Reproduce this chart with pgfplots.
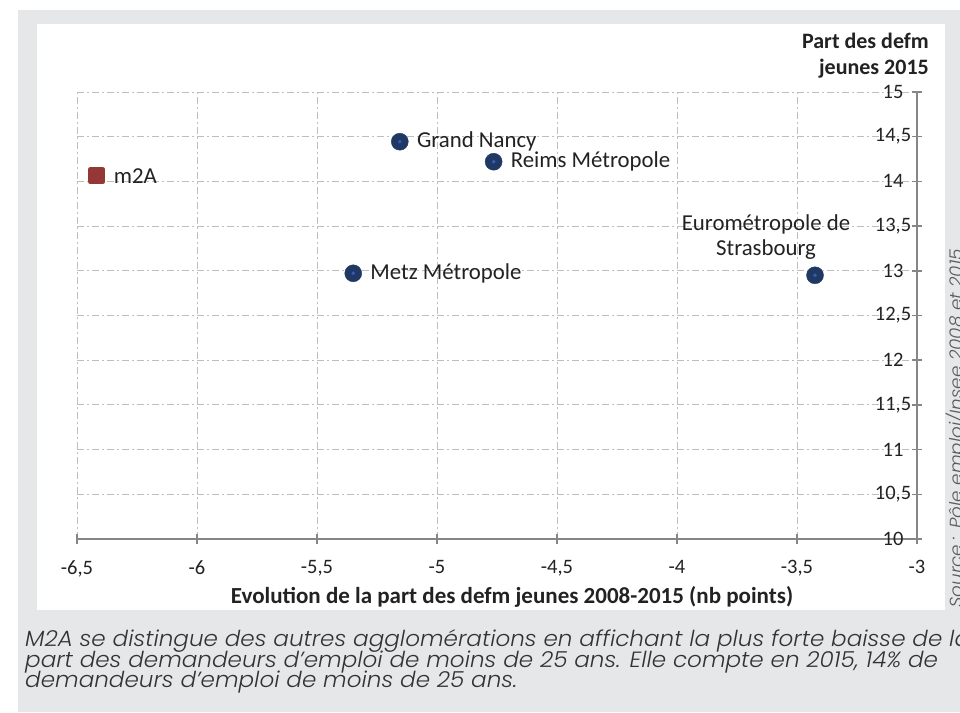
\documentclass[border=0pt]{standalone}
\usepackage{pgfplots}
\pgfplotsset{compat=1.18}
\usepackage{fontspec}
\setmainfont{Carlito}
\newfontfamily\capfont{Poppins}[UprightFont={* Light Italic}, FakeStretch=1.05]

\definecolor{bggray}{HTML}{E6E7E8}
\definecolor{navy}{HTML}{1F3864}
\definecolor{navyc}{HTML}{3A5CB0}
\definecolor{brick}{HTML}{953735}
\definecolor{gridgray}{HTML}{BEBEBE}
\definecolor{axgray}{HTML}{868686}
\definecolor{txt}{HTML}{222222}

\begin{document}
\begin{tikzpicture}[x=1pt,y=1pt]
\useasboundingbox (0,0) rectangle (960,712);
\clip (0,0) rectangle (960,712);
\fill[white] (0,0) rectangle (960,712);
\fill[bggray] (18,0) rectangle (960,702);
\fill[white] (37,102) rectangle (945,688);

\begin{axis}[
  at={(77pt,173pt)}, anchor=south west,
  scale only axis, width=840pt, height=447pt,
  xmin=-6.5, xmax=-3, ymin=10, ymax=15,
  axis x line=bottom, axis y line=right,
  axis line style={axgray, line width=1.5pt, -},
  xtick={-6.5,-6,-5.5,-5,-4.5,-4,-3.5,-3},
  xticklabels={{-6,5},{-6},{-5,5},{-5},{-4,5},{-4},{-3,5},{-3}},
  ytick={10,10.5,11,11.5,12,12.5,13,13.5,14,14.5,15},
  yticklabels={{10},{10,5},{11},{11,5},{12},{12,5},{13},{13,5},{14},{14,5},{15}},
  tick style={axgray, line width=1.5pt},
  tick align=center, major tick length=10pt,
  grid=major,
  major grid style={gridgray, line width=0.9pt, dash pattern=on 7pt off 3pt on 2pt off 3pt},
  xticklabel style={font=\fontsize{20.5}{24}\selectfont, text=txt, inner sep=0pt, yshift=-16pt},
  yticklabel style={font=\fontsize{20.5}{24}\selectfont, text=txt, inner sep=0pt, anchor=center, xshift=-29pt},
  clip=false,
]
% m2A (rounded square: thick stroke with round joins)
\addplot[only marks, mark=square*, mark size=6.3pt, color=brick,
  mark options={line width=5pt, line join=round}] coordinates {(-6.418,14.064)};
% other agglomerations
\addplot[only marks, mark=*, mark size=8.5pt, color=navy] coordinates {
  (-5.155,14.444) (-4.764,14.220) (-5.349,12.972) (-3.425,12.950)};
\addplot[only marks, mark=*, mark size=1.6pt, color=navyc] coordinates {
  (-5.155,14.444) (-4.764,14.220) (-5.349,12.972) (-3.425,12.950)};

\begin{scope}[every node/.style={font=\fontsize{22.8}{25}\selectfont, text=txt, inner sep=0pt}]
\node[anchor=west] at (axis cs:-6.418,14.064) [xshift=17pt] {m2A};
\node[anchor=west] at (axis cs:-5.155,14.444) [xshift=17pt] {Grand Nancy};
\node[anchor=west] at (axis cs:-4.764,14.220) [xshift=17pt] {Reims Métropole};
\node[anchor=west] at (axis cs:-5.349,12.972) [xshift=17pt] {Metz Métropole};
\node[align=center] at (axis cs:-3.629,13.372) {Eurométropole de\\Strasbourg};
\end{scope}
\end{axis}

% axis titles
\node[anchor=north east, align=right, inner sep=0pt, text=txt,
  font=\fontsize{22}{26}\bfseries] at (929,679) {Part des defm\\jeunes 2015};
\node[anchor=base, inner sep=0pt, text=txt, font=\fontsize{23}{25}\bfseries]
  at (512,109) {Evolution de la part des defm jeunes 2008-2015 (nb points)};

% source
\node[rotate=90, anchor=base west, inner sep=0pt, text=black!65,
  font=\capfont\fontsize{17.5}{21}\selectfont] at (962,104)
  {Source : Pôle emploi/Insee 2008 et 2015};

% caption
\begin{scope}[every node/.style={anchor=base west, inner sep=0pt, text=black!80,
  font=\capfont\fontsize{22}{21}\selectfont}]
\node at (25,66) {M2A se distingue des autres agglomérations en affichant la plus forte baisse de la};
\node at (25,45) {part des demandeurs d’emploi de moins de 25 ans. Elle compte en 2015, 14\% de};
\node at (25,25) {demandeurs d’emploi de moins de 25 ans.};
\end{scope}
\end{tikzpicture}
\end{document}
